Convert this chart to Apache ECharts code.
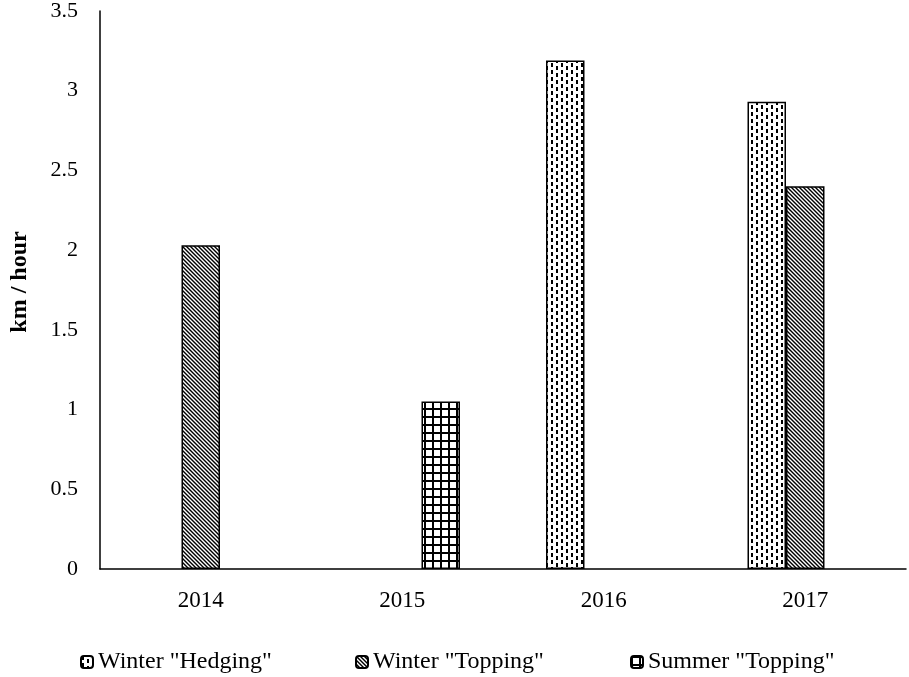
<!DOCTYPE html>
<html>
<head>
<meta charset="utf-8">
<script src="https://cdn.jsdelivr.net/npm/echarts@6/dist/echarts.min.js"></script>
<style>
html,body{margin:0;padding:0;background:#fff;}
#chart{width:909px;height:677px;}
</style>
</head>
<body>
<div id="chart"></div>
<script>
// ---- data ----
var categories = ['2014', '2015', '2016', '2017'];
var seriesNames = ['Winter "Hedging"', 'Winter "Topping"', 'Summer "Topping"'];
var winterHedging = [null, null, 3.19, 2.93];
var winterTopping = [2.03, null, null, 2.40];
var summerTopping = [null, 1.05, null, null];
var yMin = 0, yMax = 3.5, yInterval = 0.5;
var yAxisTitle = 'km / hour';

// ---- patterns ----
function makeTile(w, h, draw) {
  var c = document.createElement('canvas');
  c.width = w; c.height = h;
  var ctx = c.getContext('2d');
  ctx.fillStyle = '#fff';
  ctx.fillRect(0, 0, w, h);
  draw(ctx);
  return c;
}
var dashTile = makeTile(10, 14, function (ctx) {
  ctx.fillStyle = '#000';
  ctx.fillRect(1, 0, 2, 4);
  ctx.fillRect(1, 7, 2, 4);
  ctx.fillRect(6, 3, 2, 4);
  ctx.fillRect(6, 10, 2, 4);
});
var diagTile = makeTile(8, 8, function (ctx) {
  ctx.strokeStyle = '#000';
  ctx.lineWidth = 1.4;
  for (var k = -8; k <= 8; k += 4) {
    ctx.beginPath();
    ctx.moveTo(k - 1, -1);
    ctx.lineTo(k + 9, 9);
    ctx.stroke();
  }
});
var gridTile = makeTile(8, 8, function (ctx) {
  ctx.fillStyle = '#000';
  ctx.fillRect(0, 0, 2, 8);
  ctx.fillRect(0, 0, 8, 2);
});
function pat(tile) { return { image: tile, repeat: 'repeat' }; }

var font = '"Liberation Serif", "Times New Roman", serif';
var chart = echarts.init(document.getElementById('chart'));

function barSeries(name, data, tile) {
  return {
    name: name,
    type: 'bar',
    data: data,
    barWidth: 38.5,
    barGap: '0%',
    itemStyle: { color: pat(tile), borderColor: '#000', borderWidth: 1.5 },
    emphasis: { disabled: true },
    animation: false
  };
}
function legendAt(left, name) {
  return {
    data: [name],
    left: left,
    top: 650,
    padding: 0,
    itemWidth: 12,
    itemHeight: 12,
    itemGap: 0,
    selectedMode: false,
    textStyle: { fontFamily: font, fontSize: 24, color: '#000' }
  };
}

chart.setOption({
  backgroundColor: '#fff',
  animation: false,
  grid: { left: 97, top: 11, right: 3, bottom: 108 },
  legend: [
    legendAt(80, seriesNames[0]),
    legendAt(355, seriesNames[1]),
    legendAt(630, seriesNames[2])
  ],
  xAxis: {
    type: 'category',
    data: categories,
    axisLine: { lineStyle: { color: '#000', width: 1.5 } },
    axisTick: { show: false },
    axisLabel: { fontFamily: font, fontSize: 23, color: '#000', margin: 20 },
    splitLine: { show: false }
  },
  yAxis: {
    type: 'value',
    min: yMin, max: yMax, interval: yInterval,
    name: yAxisTitle,
    nameLocation: 'middle',
    nameGap: 68,
    nameTextStyle: { fontFamily: font, fontSize: 24, fontWeight: 'bold', color: '#000', padding: [0, 0, 0, 16] },
    axisLine: { show: true, lineStyle: { color: '#000', width: 1.5 } },
    axisTick: { show: false },
    axisLabel: { fontFamily: font, fontSize: 22, color: '#000', margin: 22 },
    splitLine: { show: false }
  },
  series: [
    barSeries(seriesNames[0], winterHedging, dashTile),
    barSeries(seriesNames[1], winterTopping, diagTile),
    barSeries(seriesNames[2], summerTopping, gridTile)
  ]
});
</script>
</body>
</html>
